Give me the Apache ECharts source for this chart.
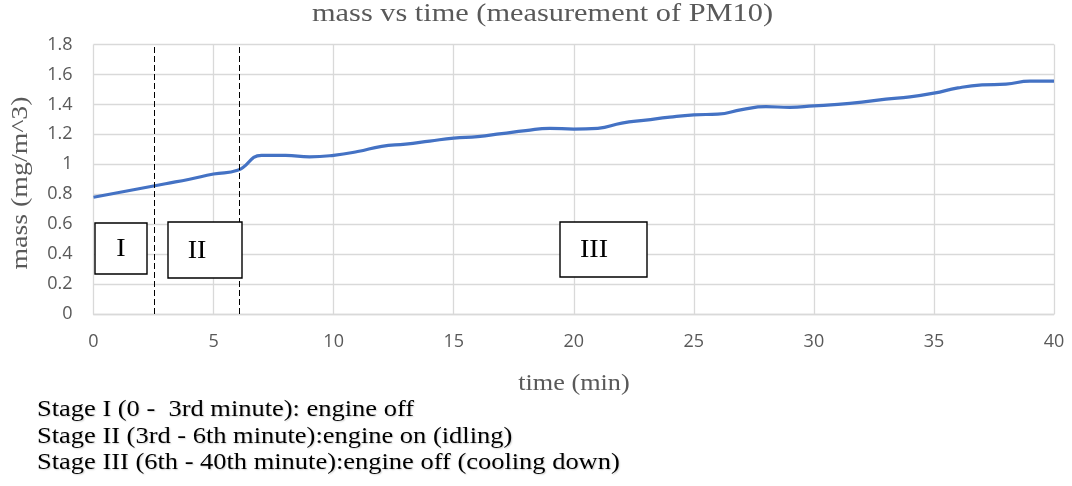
<!DOCTYPE html>
<html><head><meta charset="utf-8">
<script src="https://cdn.jsdelivr.net/npm/echarts@6/dist/echarts.min.js"></script>
<style>html,body{margin:0;padding:0;background:#fff}#c{width:1072px;height:486px}</style>
</head><body><div id="c"></div>
<script>
const times = [0,1,2,3,4,5,6,7,8,9,10,11,12,13,14,15,16,17,18,19,20,21,22,23,24,25,26,27,28,29,30,31,32,33,34,35,36,37,38,39,40];
const mass = [0.78,0.81,0.84,0.87,0.90,0.935,0.96,1.06,1.06,1.05,1.06,1.085,1.12,1.135,1.155,1.175,1.185,1.205,1.225,1.24,1.235,1.24,1.275,1.295,1.315,1.33,1.335,1.365,1.385,1.38,1.39,1.40,1.415,1.435,1.45,1.475,1.51,1.53,1.535,1.555,1.555];
const stageBounds = [2.55, 6.08];
const stageLabels = ['I','II','III'];
const titleText = 'mass vs time (measurement of PM10)';
const xName = 'time (min)';
const yName = 'mass (mg/m^3)';
const notes = ['Stage I (0 -  3rd minute): engine off','Stage II (3rd - 6th minute):engine on (idling)','Stage III (6th - 40th minute):engine off (cooling down)'];

const chart = echarts.init(document.getElementById('c'));
const serif = '"Liberation Serif", "DejaVu Serif", serif';
const sans = '"Open Sans", "Liberation Sans", sans-serif';
const boxes = [
  {x:95, y:223, w:52, h:51, label:stageLabels[0]},
  {x:168, y:222, w:74, h:56, label:stageLabels[1], tx:197},
  {x:560, y:222, w:87, h:55, label:stageLabels[2], tx:594}
];
const graphics = [];
boxes.forEach(b=>{
  graphics.push({type:'rect', shape:{x:b.x,y:b.y,width:b.w,height:b.h}, style:{fill:'#fff',stroke:'#000',lineWidth:1.4}, z:100});
  graphics.push({type:'text', x:(b.tx!==undefined?b.tx:b.x+b.w/2), y:b.y+b.h/2+1, scaleX:1.12,
    style:{text:b.label,font:'25px '+serif,fill:'#000',align:'center',verticalAlign:'middle'}, z:101});
});
// title
graphics.push({type:'text', x:542.5, y:14, scaleX:1.19,
  style:{text:titleText,font:'25.5px '+serif,fill:'#595959',align:'center',verticalAlign:'middle'}});
// axis names
graphics.push({type:'text', x:574, y:384, scaleX:1.14,
  style:{text:xName,font:'23px '+serif,fill:'#595959',align:'center',verticalAlign:'middle'}});
graphics.push({type:'text', x:21, y:183, rotation:Math.PI/2, scaleX:1.21,
  style:{text:yName,font:'23px '+serif,fill:'#595959',align:'center',verticalAlign:'middle'}});
notes.forEach((t,i)=>{
  graphics.push({type:'text', x:37, y:410+i*26.5, scaleX:1.15,
    style:{text:t,font:'23px '+serif,fill:'#000',align:'left',verticalAlign:'middle',
      textShadowColor:'rgba(0,0,0,0.18)',textShadowBlur:1.5,textShadowOffsetX:1,textShadowOffsetY:1}});
});
chart.setOption({
  animation:false,
  grid:{left:93.5, right:18, top:44.5, bottom:172, containLabel:false, outerBoundsMode:'none'},
  xAxis:{type:'value', min:0, max:40, interval:5,
    axisLine:{lineStyle:{color:'#d9d9d9',width:1.3}}, axisTick:{show:false},
    axisLabel:{fontFamily:sans,fontSize:18,color:'#595959',margin:19},
    splitLine:{show:true,lineStyle:{color:'#d9d9d9',width:1.3}}},
  yAxis:{type:'value', min:0, max:1.8, interval:0.2,
    axisLine:{show:false}, axisTick:{show:false},
    axisLabel:{fontFamily:sans,fontSize:18,color:'#595959',margin:21,
      formatter:v=>String(Math.round(v*10)/10)},
    splitLine:{show:true,lineStyle:{color:'#d9d9d9',width:1.3}}},
  series:[{type:'line', data:times.map((t,i)=>[t,mass[i]]), smooth:0.5, showSymbol:false,
    lineStyle:{color:'#4472C4',width:3.2},
    markLine:{silent:true, symbol:'none', label:{show:false},
      lineStyle:{color:'#000',type:[6,3],width:1},
      data:stageBounds.map(v=>({xAxis:v}))}}],
  graphic:graphics
});
</script></body></html>
